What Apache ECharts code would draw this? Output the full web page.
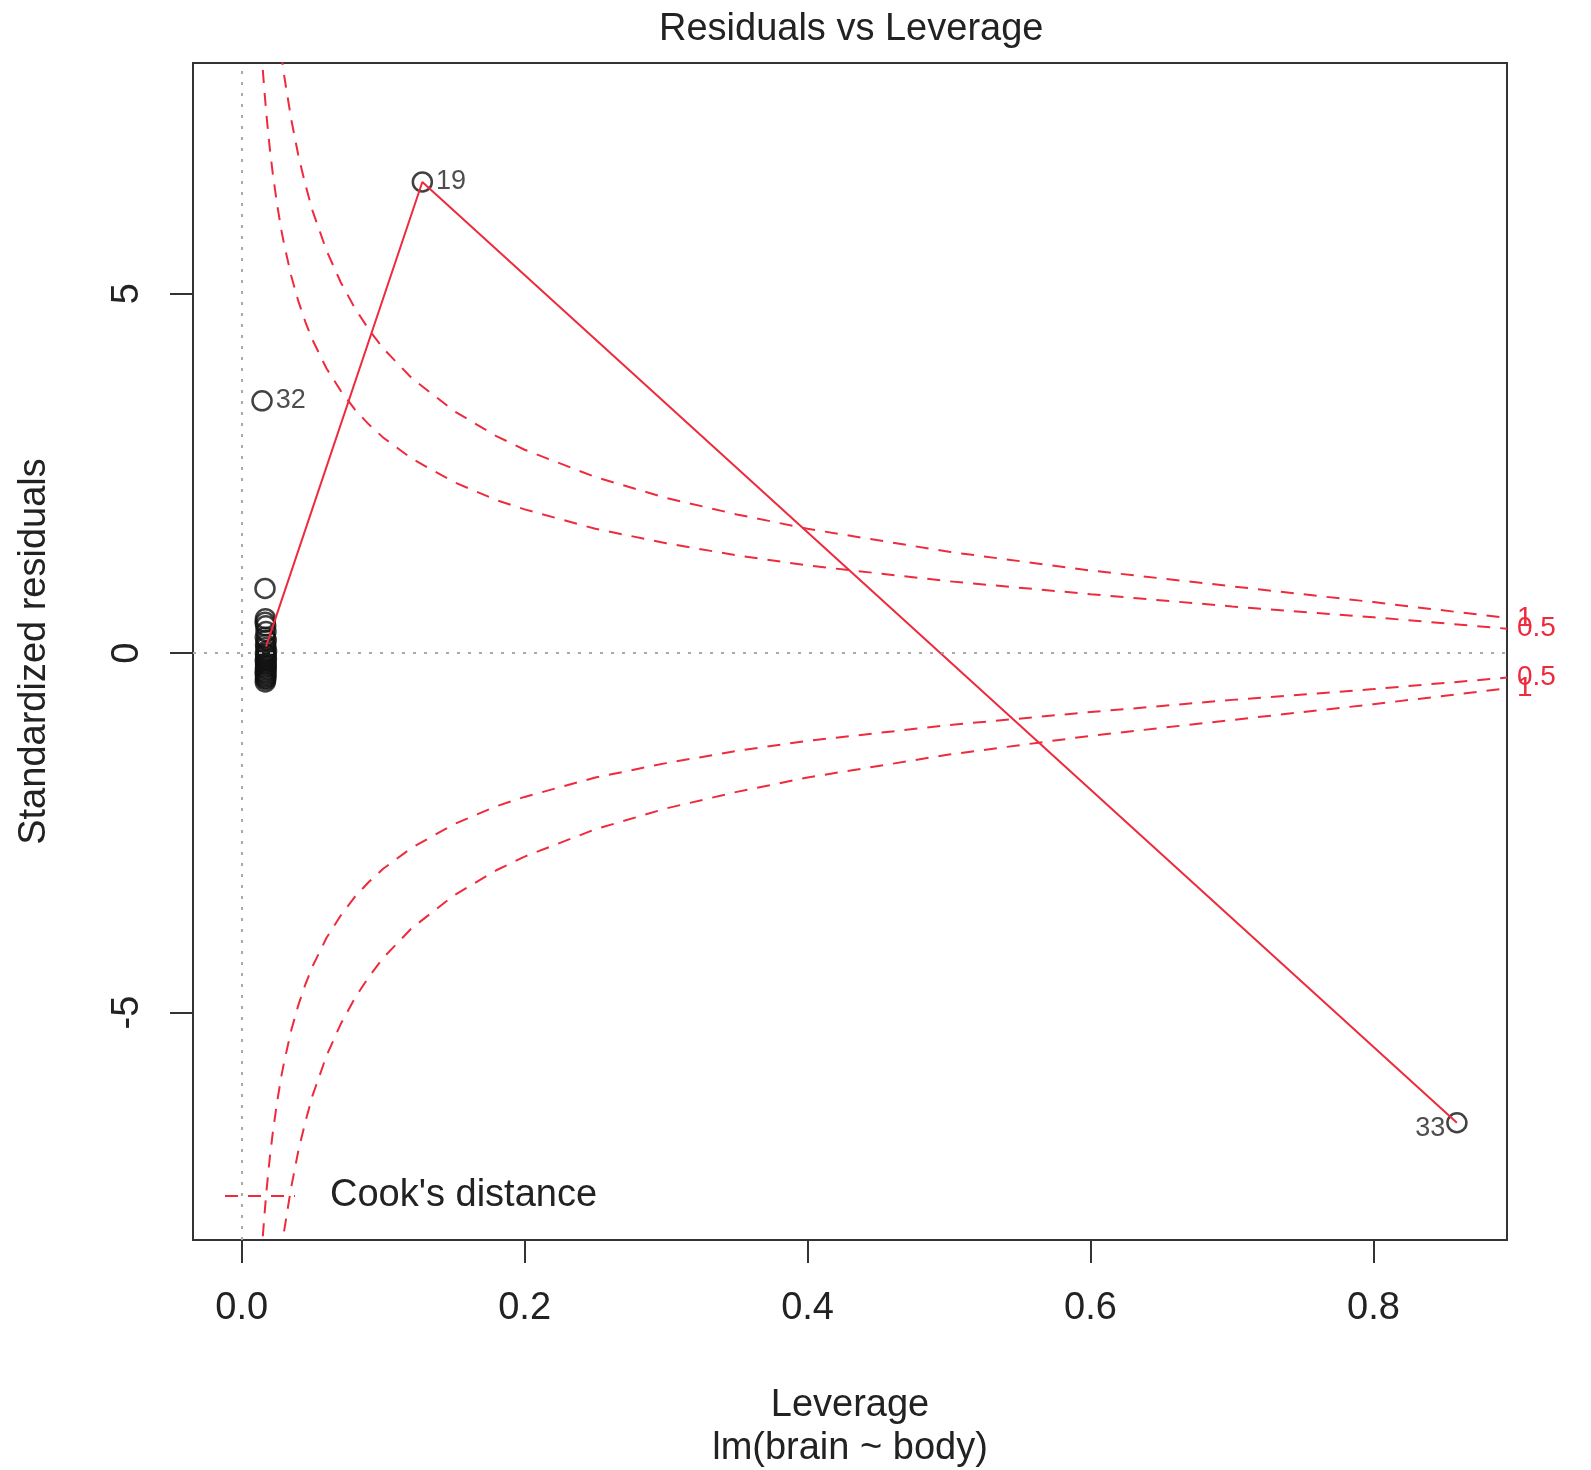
<!DOCTYPE html>
<html>
<head>
<meta charset="utf-8">
<script src="https://cdn.jsdelivr.net/npm/echarts@6/dist/echarts.min.js"></script>
<style>
html,body{margin:0;padding:0;background:#fff;}
#chart{width:1591px;height:1470px;}
</style>
</head>
<body>
<div id="chart"></div>
<script>
// ---------- data ----------
const clusterLev = [0.0165,0.0168,0.0166,0.0170,0.0172,0.0167,0.0174,0.0169,0.0171,0.0176,0.0168,0.0173,0.0170,0.0175,0.0167,0.0172,0.0169,0.0174,0.0171,0.0168,0.0173,0.0170,0.0166,0.0172,0.0169,0.0171,0.0168,0.0170,0.0167];
const clusterRes = [0.90,0.48,0.43,0.38,0.30,0.22,0.18,0.12,0.08,0.03,0.00,-0.02,-0.05,-0.08,-0.10,-0.12,-0.15,-0.17,-0.19,-0.21,-0.23,-0.25,-0.27,-0.29,-0.31,-0.33,-0.35,-0.37,-0.40];
const labeledIds = ['19','32','33'];
const labeledLev = [0.1277,0.0144,0.859];
const labeledRes = [6.555,3.51,-6.533];
const smoothLev = [0.0172,0.1277,0.859];
const smoothRes = [0.09,6.555,-6.533];
const cookLev = [0.012,0.013,0.014,0.015,0.016,0.0175,0.019,0.02,0.022,0.025,0.028,0.03,0.035,0.04,0.045,0.05,0.06,0.07,0.08,0.09,0.1,0.12,0.15,0.18,0.2,0.25,0.3,0.35,0.4,0.5,0.6,0.7,0.8,0.8944];
const cook05 = [9.07,8.71,8.39,8.10,7.84,7.49,7.19,7.00,6.67,6.25,5.89,5.69,5.25,4.90,4.61,4.36,3.96,3.65,3.39,3.18,3.00,2.71,2.38,2.13,2.00,1.73,1.53,1.36,1.22,1.00,0.82,0.65,0.50,0.34];
const cook1 = [12.83,12.32,11.87,11.46,11.09,10.60,10.17,9.90,9.43,8.83,8.33,8.04,7.43,6.93,6.52,6.16,5.60,5.16,4.80,4.50,4.24,3.83,3.37,3.02,2.83,2.45,2.16,1.93,1.73,1.41,1.15,0.93,0.71,0.49];
const xTicks = [0,0.2,0.4,0.6,0.8];
const yTicks = [-5,0,5];
const xRange = [-0.0344,0.8944];
const yRange = [-8.164,8.21];

// ---------- styles ----------
const RED = '#ee2a3c';
const INK = '#222';
const FONT = '"Liberation Sans", Arial, sans-serif';

const chart = echarts.init(document.getElementById('chart'), null, {renderer:'canvas'});

function cookSeries(vals, sign, label){
  return {
    name: "Cook's distance",
    type: 'line',
    data: cookLev.map((h,i)=>[h, sign*vals[i]]),
    showSymbol: false, symbol: 'none',
    smooth: false,
    clip: true,
    lineStyle: {color: RED, width: 2, type: [13,10]},
    itemStyle: {color: RED},
    endLabel: {show: true, formatter: label, color: RED, fontSize: 28, fontFamily: FONT, distance: 10},
    z: 2, silent: true
  };
}

const option = {
  animation: false,
  backgroundColor: '#fff',
  title: {
    text: 'Residuals vs Leverage',
    left: 654, top: 6,
    textStyle: {fontSize: 38, fontWeight: 'normal', color: INK, fontFamily: FONT}
  },
  legend: {
    show: true,
    data: ["Cook's distance"],
    left: 219, top: 1172,
    itemWidth: 70, itemHeight: 14,
    itemStyle: {opacity: 0},
    textStyle: {fontSize: 38, color: INK, fontFamily: FONT, padding: [0,0,0,30]}
  },
  grid: {
    left: 193, right: 84, top: 63, bottom: 230,
    outerBoundsMode: 'none', containLabel: false,
    show: true, borderColor: '#333', borderWidth: 2, backgroundColor: 'transparent'
  },
  xAxis: {
    type: 'value', min: xRange[0], max: xRange[1],
    name: 'Leverage\nlm(brain ~ body)', nameLocation: 'middle', nameGap: 144,
    nameTextStyle: {fontSize: 38, color: INK, fontFamily: FONT, lineHeight: 43},
    axisLine: {show: false, onZero: false},
    axisTick: {show: true, length: 23, customValues: xTicks, lineStyle: {color: '#333', width: 2}},
    axisLabel: {customValues: xTicks, formatter: v => v.toFixed(1), fontSize: 38, color: INK, fontFamily: FONT, margin: 50},
    splitLine: {show: false}
  },
  yAxis: {
    type: 'value', min: yRange[0], max: yRange[1],
    name: 'Standardized residuals', nameLocation: 'middle', nameGap: 139,
    nameTextStyle: {fontSize: 38, color: INK, fontFamily: FONT},
    axisLine: {show: false, onZero: false},
    axisTick: {show: true, length: 23, customValues: yTicks, lineStyle: {color: '#333', width: 2}},
    axisLabel: {customValues: yTicks, formatter: v => String(v), rotate: 90, fontSize: 38, color: INK, fontFamily: FONT, margin: 46},
    splitLine: {show: false}
  },
  series: [
    {
      name: 'ref', type: 'line', data: [], silent: true,
      markLine: {
        silent: true, symbol: 'none', label: {show: false},
        lineStyle: {color: '#aaa', width: 2, type: [3,8]},
        data: [{xAxis: 0}, {yAxis: 0}]
      },
      z: 1
    },
    cookSeries(cook05, 1, '0.5'),
    cookSeries(cook1, 1, '1'),
    cookSeries(cook05, -1, '0.5'),
    cookSeries(cook1, -1, '1'),
    {
      name: 'points', type: 'scatter',
      data: clusterLev.map((h,i)=>[h, clusterRes[i]]),
      symbol: 'circle', symbolSize: 19,
      itemStyle: {color: 'rgba(0,0,0,0)', borderColor: '#111', borderWidth: 2.5},
      z: 3, silent: true
    },
    {
      name: 'labeled', type: 'scatter',
      data: labeledLev.map((h,i)=>({
        value: [h, labeledRes[i]],
        label: labeledIds[i]==='33' ? {position: 'left', distance: 1, offset: [0,6]} : {position: 'right', distance: 3}
      })),
      symbol: 'circle', symbolSize: 19,
      itemStyle: {color: 'rgba(0,0,0,0)', borderColor: '#111', borderWidth: 2.5},
      label: {show: true, formatter: p => labeledIds[p.dataIndex], fontSize: 27, color: INK, fontFamily: FONT},
      z: 3, silent: true
    },
    {
      name: 'smooth', type: 'line',
      data: smoothLev.map((h,i)=>[h, smoothRes[i]]),
      showSymbol: false, symbol: 'none',
      lineStyle: {color: RED, width: 2, type: 'solid'},
      z: 4, silent: true
    }
  ]
};
chart.setOption(option);
</script>
</body>
</html>
